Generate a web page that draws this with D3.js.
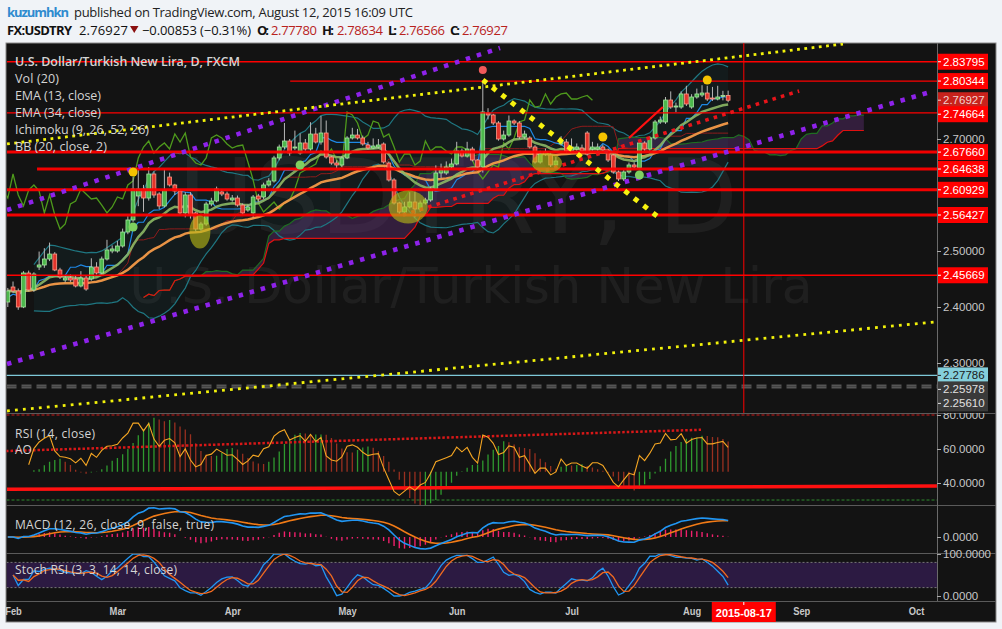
<!DOCTYPE html>
<html><head><meta charset="utf-8">
<script src="https://cdn.jsdelivr.net/npm/d3@7"></script>
<style>
body{margin:0;background:#f0f3f7;}
svg{display:block;}
</style></head><body>
<svg id="c" width="1002" height="629"></svg>
<script>
// ---------------- DATA ----------------
const firstDate = "2015-01-30";
const openP = [
2.4089,2.4357,2.4286,2.4000,2.4607,2.4304,2.4714,2.4750,2.4857,2.4946,
2.4661,2.4482,2.4518,2.4500,2.4375,2.4518,2.4500,2.4714,2.4607,2.4857,
2.5000,2.5000,2.5089,2.5339,2.5554,2.5982,2.6107,2.5946,2.6375,2.6018,
2.5804,2.6321,2.6179,2.6071,2.5679,2.6000,2.5679,2.5393,2.5482,2.5839,
2.5893,2.6054,2.6018,2.5911,2.5946,2.5821,2.5732,2.5679,2.5982,2.5964,
2.6179,2.6250,2.6661,2.6857,2.6964,2.6839,2.6750,2.6929,2.6821,2.7089,
2.6946,2.7107,2.6679,2.6571,2.6536,2.6661,2.7018,2.7071,2.7018,2.6893,
2.6839,2.6857,2.6911,2.6571,2.6268,2.5857,2.5696,2.5786,2.5875,2.5750,
2.5857,2.5911,2.6107,2.6393,2.6393,2.6500,2.6554,2.6786,2.6696,2.6821,
2.6625,2.6500,2.7464,2.7429,2.7286,2.7000,2.7071,2.7321,2.7286,2.7036,
2.7018,2.6857,2.6589,2.6768,2.6714,2.6536,2.6911,2.6946,2.6786,2.6821,
2.6839,2.7107,2.6821,2.6821,2.6857,2.6804,2.6714,2.6411,2.6286,2.6411,
2.6536,2.6482,2.6929,2.6821,2.7018,2.7304,2.7304,2.7696,2.7571,2.7571,
2.7804,2.7571,2.7750,2.7786,2.7821,2.7732,2.7714,2.7770,2.7778];
const highP = [
2.4340,2.4455,2.4330,2.4640,2.4650,2.4620,2.4990,2.5050,2.5150,2.4980,
2.4700,2.4560,2.4580,2.4560,2.4640,2.4560,2.4870,2.4800,2.4900,2.5200,
2.5100,2.5180,2.5400,2.5620,2.6321,2.6446,2.6180,2.6500,2.6420,2.6050,
2.6464,2.6400,2.6200,2.6100,2.6050,2.6050,2.5700,2.5520,2.5880,2.5950,
2.6150,2.6100,2.6060,2.6000,2.5990,2.5850,2.5830,2.6000,2.6020,2.6220,
2.6300,2.6700,2.6900,2.7286,2.7000,2.7150,2.7100,2.7000,2.7300,2.7200,
2.7411,2.7330,2.6700,2.6620,2.6700,2.7050,2.7200,2.7180,2.7060,2.6950,
2.7010,2.7000,2.6940,2.6600,2.6300,2.5880,2.5880,2.6050,2.6060,2.5900,
2.5950,2.6150,2.6530,2.6560,2.6600,2.6650,2.6950,2.6830,2.6950,2.6860,
2.6640,2.8054,2.7550,2.7450,2.7320,2.7150,2.7420,2.7350,2.7320,2.7150,
2.7050,2.6890,2.6790,2.6830,2.6760,2.6680,2.7050,2.7000,2.7010,2.6920,
2.6900,2.7140,2.6950,2.6920,2.6900,2.6830,2.6740,2.6440,2.6450,2.6580,
2.6580,2.6960,2.6960,2.7050,2.7340,2.7400,2.7750,2.7850,2.7650,2.7850,
2.7950,2.7800,2.7900,2.7960,2.7950,2.7930,2.7950,2.7860,2.78634];
const lowP = [
2.4000,2.4250,2.3950,2.3980,2.4280,2.4270,2.4660,2.4700,2.4820,2.4640,
2.4500,2.4440,2.4450,2.4350,2.4350,2.4290,2.4470,2.4580,2.4580,2.4830,
2.4960,2.4970,2.5060,2.5300,2.5520,2.5800,2.5700,2.5900,2.5950,2.5750,
2.5780,2.6150,2.6000,2.5640,2.5600,2.5580,2.5350,2.5360,2.5450,2.5800,
2.5870,2.5980,2.5900,2.5880,2.5790,2.5640,2.5700,2.5600,2.5880,2.5930,
2.6150,2.6220,2.6620,2.6820,2.6700,2.6800,2.6720,2.6790,2.6790,2.6920,
2.6900,2.6650,2.6540,2.6470,2.6500,2.6640,2.6990,2.6990,2.6880,2.6810,
2.6820,2.6830,2.6560,2.6240,2.5830,2.5660,2.5660,2.5760,2.5600,2.5700,
2.5830,2.5880,2.6080,2.6300,2.6360,2.6470,2.6530,2.6670,2.6670,2.6600,
2.6470,2.6400,2.7350,2.7250,2.6970,2.6970,2.7040,2.7250,2.7000,2.7000,
2.6830,2.6560,2.6560,2.6700,2.6500,2.6500,2.6880,2.6750,2.6760,2.6790,
2.6750,2.6700,2.6790,2.6790,2.6770,2.6590,2.6380,2.6250,2.6250,2.6380,
2.6470,2.6450,2.6790,2.6790,2.6990,2.7270,2.7270,2.7540,2.7480,2.7540,
2.7590,2.7540,2.7720,2.7750,2.7680,2.7680,2.7690,2.7690,2.76566];
const closeP = [
2.4286,2.4286,2.4000,2.4607,2.4304,2.4589,2.4750,2.4857,2.4946,2.4661,
2.4536,2.4518,2.4482,2.4375,2.4518,2.4321,2.4714,2.4607,2.4857,2.5018,
2.5036,2.5089,2.5339,2.5554,2.6107,2.6107,2.5946,2.6375,2.6000,2.5804,
2.6089,2.6179,2.6071,2.5679,2.6000,2.5643,2.5393,2.5482,2.5839,2.5893,
2.6107,2.6018,2.5929,2.5946,2.5821,2.5679,2.5786,2.5964,2.5929,2.6179,
2.6250,2.6661,2.6857,2.6964,2.6750,2.6857,2.6929,2.6821,2.7089,2.6946,
2.7107,2.6679,2.6571,2.6536,2.6661,2.7018,2.7071,2.7018,2.6911,2.6839,
2.6875,2.6893,2.6589,2.6268,2.5857,2.5696,2.5786,2.5875,2.5750,2.5857,
2.5911,2.6107,2.6393,2.6446,2.6500,2.6554,2.6786,2.6696,2.6821,2.6625,
2.6500,2.7482,2.7429,2.7286,2.7000,2.7071,2.7321,2.7286,2.7036,2.7089,
2.6857,2.6589,2.6732,2.6732,2.6536,2.6607,2.6964,2.6786,2.6857,2.6857,
2.6786,2.6732,2.6857,2.6857,2.6804,2.6625,2.6411,2.6286,2.6411,2.6536,
2.6500,2.6929,2.6821,2.7018,2.7304,2.7339,2.7696,2.7571,2.7589,2.7804,
2.7625,2.7750,2.7804,2.7821,2.7714,2.7714,2.7750,2.7778,2.76927];

const monthStarts = ["2015-02-02","2015-03-02","2015-04-01","2015-05-01","2015-06-01","2015-07-01","2015-08-03","2015-09-01","2015-10-01"];
const monthLabels = ["Feb","Mar","Apr","May","Jun","Jul","Aug","Sep","Oct"];
const markedDate = "2015-08-17";
const priceTicks = [2.3,2.4,2.5,2.7];

const levelPrices = [2.83795,2.80344,2.74664,2.67660,2.64638,2.60929,2.56427,2.45669];
const levelStarts = [-0.15,54.1,-0.15,-0.15,5.6,-0.15,-0.15,-0.15];
const levelHeavy  = [false,false,false,true,true,true,true,false];
const tagPrices = [2.83795,2.80344,2.76927,2.74664,2.67660,2.64638,2.60929,2.56427,2.45669,2.27786,2.25978,2.25610];
const tagKinds  = ["lvl","lvl","last","lvl","lvl","lvl","lvl","lvl","lvl","blue","grey","grey"];
const purpleUpper = [-0.15,2.5732,94.3,2.8625];
const purpleLower = [-0.15,2.2982,176.7,2.7839];
const yellowUpper = [-0.15,2.6911,160.0,2.8696];
const yellowLower = [-0.15,2.2143,177.6,2.3732];
const yellowDown  = [91.0,2.8054,124.6,2.5607];
const redDotted   = [75.7,2.5643,151.6,2.7857];
const redSolid    = [119.0,2.7018,125.5,2.7571];
const rsiDotted   = [-0.34,58.8,132.8,71.3];
const rsiSupport  = [-0.15,36.3,178,38.2];
const redMarks    = [[91,2.8232]];
const yellowMarks = [[24,2.6411],[134,2.8054],[114,2.7036]];
const greenMarks  = [[24,2.5429],[56,2.6536],[121,2.6357]];
const ellipseCenters = [[36.8,2.5339],[76.7,2.5786],[103.3,2.6571]];

// ---------------- SETUP ----------------
const N = closeP.length;
const dates=[];{let d=new Date(firstDate+"T00:00:00Z");while(dates.length<220){const w=d.getUTCDay();if(w>0&&w<6)dates.push(d.toISOString().slice(0,10));d=new Date(d.getTime()+864e5);}}
const idxOf = s => dates.indexOf(s);

const svg=d3.select("#c");
const PL=6.5, PR=937;
const MAIN=[43,413], RSI=[413,505], MACD=[505,553], ST=[553,601];
const x=d3.scaleLinear().domain([0,idxOf(markedDate)]).range([7.8,743.8]);
const y=d3.scaleLinear().domain([2.3,2.7]).range([363,139]);
const ry=d3.scaleLinear().domain([40,60]).range([483,449]);
const aoY=d3.scaleLinear().domain([0,0.1]).range([471.7,425]);
const my=d3.scaleLinear().domain([0,0.042]).range([537,509]);
const sy=d3.scaleLinear().domain([0,100]).range([596,554]);

const defs=svg.append("defs");
function clip(id,r){defs.append("clipPath").attr("id",id).append("rect").attr("x",PL).attr("y",r[0]).attr("width",PR-PL).attr("height",r[1]-r[0]);}
clip("cm",MAIN);clip("cr",RSI);clip("cd",MACD);clip("cs",ST);
defs.append("clipPath").attr("id","cax").append("rect").attr("x",PR).attr("y",RSI[0]).attr("width",60).attr("height",RSI[1]-RSI[0]);

// header
const hf='"Open Sans", "Noto Sans", sans-serif';
svg.append("text").attr("x",7).attr("y",17).attr("font-family",hf).attr("font-size",13).attr("font-weight",700).attr("fill","#2e8bcf").attr("textLength",62).text("kuzumhkn");
svg.append("text").attr("x",74).attr("y",17).attr("font-family",hf).attr("font-size",13).attr("fill","#222").attr("textLength",339).text("published on TradingView.com, August 12, 2015 16:09 UTC");
const h2=[["FX:USDTRY",7,700,"#111",65],["2.76927",79,400,"#111",49],["−0.00853 (−0.31%)",142,400,"#111",109],
["O:",257,700,"#111",12],["2.77780",271,400,"#b8221d",46],["H:",322,700,"#111",12],["2.78634",337,400,"#b8221d",46],
["L:",388,700,"#111",9],["2.76566",399,400,"#b8221d",46],["C:",450,700,"#111",10],["2.76927",462,400,"#b8221d",46]];
h2.forEach(d=>svg.append("text").attr("x",d[1]).attr("y",35).attr("font-family",hf).attr("font-size",13).attr("font-weight",d[2]).attr("fill",d[3]).attr("textLength",d[4]).text(d[0]));
svg.append("path").attr("d","M130,26L138.5,26L134.25,33Z").attr("fill","#8b1010");

// frame
svg.append("rect").attr("x",6).attr("y",43).attr("width",990).attr("height",579).attr("fill","#131313").attr("stroke","#8a8a8a");

// ---------------- INDICATORS ----------------
function ema(a,n){const k=2/(n+1),o=[];a.forEach((v,i)=>o.push(i?v*k+o[i-1]*(1-k):v));return o;}
const hh=(n,i)=>d3.max(highP.slice(Math.max(0,i-n+1),i+1));
const ll=(n,i)=>d3.min(lowP.slice(Math.max(0,i-n+1),i+1));
const ema13=ema(closeP,13), ema34=ema(closeP,34);
const bb=closeP.map((c,i)=>{const w=closeP.slice(Math.max(0,i-19),i+1);if(w.length<6)return null;const m=d3.mean(w);const s=Math.sqrt(d3.mean(w,v=>(v-m)**2));return {i,u:m+2*s,l:m-2*s};}).filter(Boolean);
const tenkan=closeP.map((_,i)=>(hh(9,i)+ll(9,i))/2);
const kijun=closeP.map((_,i)=>(hh(26,i)+ll(26,i))/2);
const cloud=closeP.map((_,i)=>({i:i+26,a:(tenkan[i]+kijun[i])/2,b:(hh(52,i)+ll(52,i))/2}));
const chikou=closeP.map((c,i)=>({i:i-26,v:c}));

const rsi=[];{let ag=0,al=0;for(let i=1;i<N;i++){const d=closeP[i]-closeP[i-1];const g=Math.max(d,0),l=Math.max(-d,0);
 if(i<=14){ag=(ag*(i-1)+g)/i;al=(al*(i-1)+l)/i;}else{ag=(ag*13+g)/14;al=(al*13+l)/14;}
 rsi[i]=al===0?100:100-100/(1+ag/al);}}
const med=highP.map((h,i)=>(h+lowP[i])/2);
const ao=med.map((_,i)=>d3.mean(med.slice(Math.max(0,i-4),i+1))-d3.mean(med.slice(Math.max(0,i-33),i+1)));
const e12=ema(closeP,12),e26=ema(closeP,26);
const macd=e12.map((v,i)=>v-e26[i]);const sig=ema(macd,9);const hist=macd.map((v,i)=>v-sig[i]);
const stRaw=[];for(let i=1;i<N;i++){const w=rsi.slice(Math.max(1,i-13),i+1);const mn=d3.min(w),mx=d3.max(w);stRaw[i]=mx>mn?(rsi[i]-mn)/(mx-mn)*100:50;}
const kK=[],dD=[];for(let i=1;i<N;i++){kK[i]=d3.mean(stRaw.slice(Math.max(1,i-2),i+1));}
for(let i=1;i<N;i++){dD[i]=d3.mean(kK.slice(Math.max(1,i-2),i+1));}

// ---------------- MAIN PANE ----------------
const gm=svg.append("g").attr("clip-path","url(#cm)");
gm.append("text").attr("x",458).attr("y",233).attr("text-anchor","middle").attr("font-family","DejaVu Sans, sans-serif").attr("font-size",104).attr("fill","#fff").attr("opacity",0.05).attr("textLength",560).text("USDTRY, D");
gm.append("text").attr("x",471).attr("y",303).attr("text-anchor","middle").attr("font-family","DejaVu Sans, sans-serif").attr("font-size",50).attr("fill","#fff").attr("opacity",0.05).attr("textLength",683).text("U.S. Dollar/Turkish New Lira");

gm.append("path").datum(cloud).attr("d",d3.area().x(d=>x(d.i)).y0(d=>y(d.a)).y1(d=>y(d.b))).attr("fill","#5a2d6e").attr("opacity",0.45);
gm.append("path").datum(bb).attr("d",d3.area().x(d=>x(d.i)).y0(d=>y(d.u)).y1(d=>y(d.l))).attr("fill","#1f8a96").attr("opacity",0.07);
const ln=(data,fx,fy,col,w,op)=>gm.append("path").datum(data).attr("d",d3.line().x(fx).y(fy)).attr("fill","none").attr("stroke",col).attr("stroke-width",w).attr("opacity",op||1);
ln(bb,d=>x(d.i),d=>y(d.u),"#1f7782",1.2);
ln(bb,d=>x(d.i),d=>y(d.l),"#1f7782",1.2);
ln(cloud,d=>x(d.i),d=>y(d.a),"#1f6d22",1.2);
ln(cloud,d=>x(d.i),d=>y(d.b),"#e01010",1.2);
ln(chikou,d=>x(d.i),d=>y(d.v),"#4e9a1c",1.3);
ln(kijun,(d,i)=>x(i),d=>y(d),"#8e1c1c",1);
ln(tenkan,(d,i)=>x(i),d=>y(d),"#1e88e5",1.2);
ln(ema34,(d,i)=>x(i),d=>y(d),"#f39a48",2.5,0.95);
ln(ema13,(d,i)=>x(i),d=>y(d),"#8cb865",2.5,0.9);

const cg=gm.append("g");
closeP.forEach((c,i)=>{const o=openP[i],up=c>=o;const cx=x(i);
 cg.append("line").attr("x1",cx).attr("x2",cx).attr("y1",y(highP[i])).attr("y2",y(lowP[i])).attr("stroke","#b8b8b8").attr("stroke-width",1);
 const t=y(Math.max(o,c)),b=y(Math.min(o,c));
 cg.append("rect").attr("x",cx-1.9).attr("y",t).attr("width",3.8).attr("height",Math.max(1,b-t))
  .attr("fill",up?"#4cb84c":"#e2342b").attr("stroke",up?"#a6e6a0":"#ff9a88").attr("stroke-width",0.8);
});

levelPrices.forEach((p,k)=>gm.append("line").attr("x1",x(levelStarts[k])).attr("x2",PR).attr("y1",y(p)).attr("y2",y(p))
 .attr("stroke","#ff0000").attr("stroke-width",levelHeavy[k]?3:1.3).attr("opacity",levelHeavy[k]?0.95:1));
gm.append("line").attr("x1",PL).attr("x2",PR).attr("y1",y(tagPrices[9])).attr("y2",y(tagPrices[9])).attr("stroke","#7ec8d8").attr("stroke-width",1.2);
[tagPrices[10],tagPrices[11]].forEach(p=>gm.append("line").attr("x1",PL).attr("x2",PR).attr("y1",y(p)).attr("y2",y(p)).attr("stroke","#555").attr("stroke-width",2).attr("stroke-dasharray","10,5"));

const tl=(a,col,w,dash)=>gm.append("line").attr("x1",x(a[0])).attr("y1",y(a[1])).attr("x2",x(a[2])).attr("y2",y(a[3])).attr("stroke",col).attr("stroke-width",w).attr("stroke-dasharray",dash);
tl(purpleUpper,"#8e22ea",4.5,"4.5,7");
tl(purpleLower,"#8e22ea",4.5,"4.5,7");
tl(yellowUpper,"#f2f20a",2.8,"2.8,4.5");
tl(yellowLower,"#f2f20a",2.8,"2.8,5.2");
tl(yellowDown,"#f7f20f",5,"5,7");
tl(redDotted,"#e8141a",3.6,"3.6,5.2");
tl(redSolid,"#ff1010",2.2,null);

const ellR=[[10.5,16.5],[19.5,16.5],[15,10]];
ellipseCenters.forEach((e,k)=>gm.append("ellipse").attr("cx",x(e[0])).attr("cy",y(e[1])).attr("rx",ellR[k][0]).attr("ry",ellR[k][1]).attr("fill","#b9b916").attr("opacity",0.62));
redMarks.forEach(m=>gm.append("circle").attr("cx",x(m[0])).attr("cy",y(m[1])).attr("r",4).attr("fill","#f05a5a"));
yellowMarks.forEach(m=>gm.append("circle").attr("cx",x(m[0])).attr("cy",y(m[1])).attr("r",4.5).attr("fill","#f5c400"));
greenMarks.forEach(m=>gm.append("circle").attr("cx",x(m[0])).attr("cy",y(m[1])).attr("r",4.5).attr("fill","#7fd060"));
gm.append("line").attr("x1",x(idxOf(markedDate))).attr("x2",x(idxOf(markedDate))).attr("y1",MAIN[0]).attr("y2",MAIN[1]).attr("stroke","#ff0000").attr("stroke-width",1);

const lf='"Open Sans", "Noto Sans", sans-serif';
const leg=["U.S. Dollar/Turkish New Lira, D, FXCM","Vol (20)","EMA (13, close)","EMA (34, close)","Ichimoku (9, 26, 52, 26)","BB (20, close, 2)"];
const legW=[225,44,86,86,134,92];
leg.forEach((t,k)=>svg.append("text").attr("x",15).attr("y",66+k*17).attr("font-family",lf).attr("font-size",12.5).attr("font-weight",k?400:600).attr("fill","#d4d4d4").attr("textLength",legW[k]).text(t));

// ---------------- RSI / AO PANE ----------------
const gr=svg.append("g").attr("clip-path","url(#cr)");
gr.append("line").attr("x1",PL).attr("x2",PR).attr("y1",ry(80)).attr("y2",ry(80)).attr("stroke","#d01818").attr("stroke-dasharray","3,2").attr("stroke-width",1.2);
gr.append("line").attr("x1",PL).attr("x2",PR).attr("y1",ry(30)).attr("y2",ry(30)).attr("stroke","#2e8b2e").attr("stroke-dasharray","3,2").attr("stroke-width",1);
ao.forEach((v,i)=>{gr.append("line").attr("x1",x(i)).attr("x2",x(i)).attr("y1",aoY(0)).attr("y2",aoY(v)).attr("stroke",(i===0||v>=ao[i-1])?"#2f9a2f":"#9a3020").attr("stroke-width",1.3);});
gr.append("line").attr("x1",x(rsiSupport[0])).attr("y1",ry(rsiSupport[1])).attr("x2",x(rsiSupport[2])).attr("y2",ry(rsiSupport[3])).attr("stroke","#ff1010").attr("stroke-width",3.5);
gr.append("line").attr("x1",x(rsiDotted[0])).attr("y1",ry(rsiDotted[1])).attr("x2",x(rsiDotted[2])).attr("y2",ry(rsiDotted[3])).attr("stroke","#d81818").attr("stroke-width",2.5).attr("stroke-dasharray","2.5,2");
gr.append("path").datum(rsi.map((v,i)=>[i,v]).filter(d=>d[1]!==undefined&&d[0]>=4)).attr("d",d3.line().x(d=>x(d[0])).y(d=>ry(d[1]))).attr("fill","none").attr("stroke","#f5a623").attr("stroke-width",1.1);
svg.append("text").attr("x",15).attr("y",438).attr("font-family",lf).attr("font-size",12).attr("fill","#d4d4d4").attr("textLength",80).text("RSI (14, close)");
svg.append("text").attr("x",15).attr("y",454).attr("font-family",lf).attr("font-size",12).attr("fill","#d4d4d4").text("AO");

// ---------------- MACD PANE ----------------
const gd=svg.append("g").attr("clip-path","url(#cd)");
hist.forEach((v,i)=>gd.append("line").attr("x1",x(i)).attr("x2",x(i)).attr("y1",my(0)).attr("y2",my(v)).attr("stroke","#f0206c").attr("stroke-width",1.4));
gd.append("path").datum(sig).attr("d",d3.line().x((d,i)=>x(i)).y(d=>my(d))).attr("fill","none").attr("stroke","#f07a16").attr("stroke-width",1.6);
gd.append("path").datum(macd).attr("d",d3.line().x((d,i)=>x(i)).y(d=>my(d))).attr("fill","none").attr("stroke","#2196f3").attr("stroke-width",1.6);
svg.append("text").attr("x",15).attr("y",529).attr("font-family",lf).attr("font-size",12).attr("fill","#d4d4d4").attr("textLength",199).text("MACD (12, 26, close, 9, false, true)");

// ---------------- STOCH RSI PANE ----------------
const gs=svg.append("g").attr("clip-path","url(#cs)");
gs.append("rect").attr("x",PL).attr("y",sy(80)).attr("width",PR-PL).attr("height",sy(20)-sy(80)).attr("fill","#2c1a42");
[80,20].forEach(v=>gs.append("line").attr("x1",PL).attr("x2",PR).attr("y1",sy(v)).attr("y2",sy(v)).attr("stroke","#777").attr("stroke-dasharray","2,2"));
gs.append("path").datum(kK.map((v,i)=>[i,v]).filter(d=>d[1]!==undefined)).attr("d",d3.line().x(d=>x(d[0])).y(d=>sy(d[1]))).attr("fill","none").attr("stroke","#2196f3").attr("stroke-width",1.3);
gs.append("path").datum(dD.map((v,i)=>[i,v]).filter(d=>d[1]!==undefined)).attr("d",d3.line().x(d=>x(d[0])).y(d=>sy(d[1]))).attr("fill","none").attr("stroke","#f06a20").attr("stroke-width",1.3);
svg.append("text").attr("x",15).attr("y",574).attr("font-family",lf).attr("font-size",12).attr("fill","#d4d4d4").attr("textLength",162).text("Stoch RSI (3, 3, 14, 14, close)");

[RSI[0],MACD[0],ST[0],ST[1]].forEach(v=>svg.append("line").attr("x1",6).attr("x2",996).attr("y1",v+0.5).attr("y2",v+0.5).attr("stroke","#5a5a5a"));
svg.append("line").attr("x1",PR+0.5).attr("x2",PR+0.5).attr("y1",43).attr("y2",601).attr("stroke","#6a6a6a");

// ---------------- AXES ----------------
const af='"Liberation Sans", Arial, sans-serif';
function styleAx(g){g.select(".domain").remove();g.selectAll("line").attr("stroke","#aaa");g.selectAll("text").attr("fill","#c8c8c8").attr("font-family",af).attr("font-size",11.5);}
svg.append("g").attr("transform",`translate(${PR},0)`).call(d3.axisRight(y).tickValues(priceTicks).tickFormat(d3.format(".5f")).tickSize(4).tickPadding(2)).call(styleAx);
svg.append("g").attr("clip-path","url(#cax)").append("g").attr("transform",`translate(${PR},0)`).call(d3.axisRight(ry).tickValues([80,60,40]).tickFormat(d3.format(".4f")).tickSize(4).tickPadding(2)).call(styleAx);
svg.append("g").attr("transform",`translate(${PR},0)`).call(d3.axisRight(my).tickValues([0]).tickFormat(d3.format(".4f")).tickSize(4).tickPadding(2)).call(styleAx);
svg.append("g").attr("transform",`translate(${PR},0)`).call(d3.axisRight(sy).tickValues([100,0]).tickFormat(d3.format(".4f")).tickSize(4).tickPadding(2)).call(styleAx);

let prev=-1e9;
tagPrices.forEach((p,k)=>{let ty=Math.max(y(p),prev+14);prev=ty;const kind=tagKinds[k];
 const bg={lvl:"#ff0000",last:"#c8221c",blue:"#84cfdc",grey:"#3a3a3a"}[kind];
 const fg={lvl:"#fff",last:"#f2d2d0",blue:"#1a1a1a",grey:"#e0e0e0"}[kind];
 svg.append("rect").attr("x",PR+1).attr("y",ty-8).attr("width",50).attr("height",16).attr("fill",bg);
 svg.append("line").attr("x1",PR+1).attr("x2",PR+4).attr("y1",ty).attr("y2",ty).attr("stroke",fg);
 svg.append("text").attr("x",PR+6).attr("y",ty+4).attr("font-family",af).attr("font-size",11.5).attr("fill",fg).text(d3.format(".5f")(p));
});

// time axis
const xa=svg.append("g").attr("transform",`translate(0,${ST[1]})`).call(d3.axisBottom(x).tickValues(monthStarts.map(idxOf)).tickFormat((d,i)=>monthLabels[i]).tickSize(0).tickPadding(6));
xa.select(".domain").remove();
xa.selectAll("text").attr("fill","#c8c8c8").attr("font-family",'"Liberation Sans Narrow","Liberation Sans",Arial,sans-serif').attr("font-weight",700).attr("font-size",11).attr("transform","scale(0.85,1)");
const mx=x(idxOf(markedDate));
svg.append("rect").attr("x",mx-32).attr("y",ST[1]+1).attr("width",64).attr("height",20).attr("fill","#ff0000");
svg.append("line").attr("x1",mx).attr("x2",mx).attr("y1",ST[1]+1).attr("y2",ST[1]+4).attr("stroke","#fff");
svg.append("text").attr("x",mx).attr("y",ST[1]+16).attr("text-anchor","middle").attr("font-family",'"Liberation Sans Narrow","Liberation Sans",Arial,sans-serif').attr("font-weight",700).attr("font-size",11).attr("fill","#fff").attr("textLength",56).text(markedDate);
</script>
</body></html>
